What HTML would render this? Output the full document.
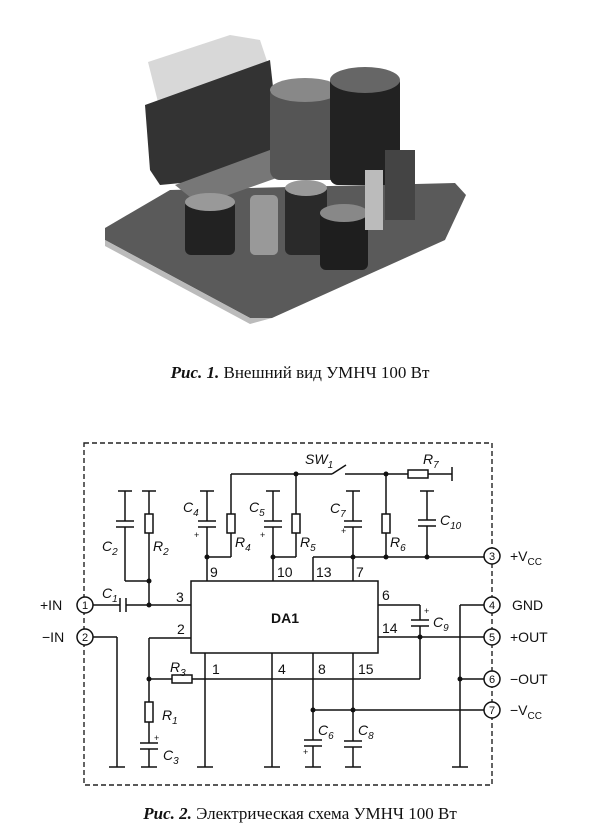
<!DOCTYPE html>
<html><head><meta charset="utf-8"><style>
html,body{margin:0;padding:0;background:#fff;width:600px;height:838px;overflow:hidden}
svg{display:block}
.t{font-family:"Liberation Sans",sans-serif;font-size:14px;fill:#111}
.i{font-style:italic}
.s{font-size:10px}
</style></head><body>
<svg width="600" height="838" viewBox="0 0 600 838" xmlns="http://www.w3.org/2000/svg">
<!-- photo approximation -->
<g>
<polygon points="105,228 170,190 455,183 466,195 445,240 272,318 250,318 105,240" fill="#5a5a5a"/>
<polygon points="105,240 250,318 272,318 250,324 105,246" fill="#bbb"/>
<polygon points="148,62 230,35 260,40 270,70 160,110" fill="#d8d8d8"/>
<polygon points="145,105 270,60 280,150 265,175 160,185 150,170" fill="#333"/>
<polygon points="175,185 270,150 285,175 200,205" fill="#777"/>
<rect x="270" y="85" width="70" height="95" rx="10" fill="#555"/>
<ellipse cx="305" cy="90" rx="35" ry="12" fill="#888"/>
<rect x="330" y="75" width="70" height="110" rx="8" fill="#222"/>
<ellipse cx="365" cy="80" rx="35" ry="13" fill="#666"/>
<rect x="185" y="200" width="50" height="55" rx="6" fill="#222"/>
<ellipse cx="210" cy="202" rx="25" ry="9" fill="#999"/>
<rect x="285" y="185" width="42" height="70" rx="6" fill="#2a2a2a"/>
<ellipse cx="306" cy="188" rx="21" ry="8" fill="#999"/>
<rect x="320" y="210" width="48" height="60" rx="6" fill="#1e1e1e"/>
<ellipse cx="344" cy="213" rx="24" ry="9" fill="#888"/>
<rect x="250" y="195" width="28" height="60" rx="5" fill="#999"/>
<rect x="385" y="150" width="30" height="70" fill="#444"/>
<rect x="365" y="170" width="18" height="60" fill="#bbb"/>
</g>
<text x="300" y="378" text-anchor="middle" style="font-family:'Liberation Serif',serif;font-size:17px" fill="#111"><tspan font-weight="bold" font-style="italic">Рис. 1.</tspan> Внешний вид УМНЧ 100 Вт</text>

<!-- frame -->
<rect x="84" y="443" width="408" height="342" fill="none" stroke="#222" stroke-width="1.4" stroke-dasharray="5,3"/>
<g stroke="#111" stroke-width="1.5" fill="none">
<!-- DA1 -->
<rect x="191" y="581" width="187" height="72"/>
<!-- input 1 -->
<line x1="93" y1="605" x2="120" y2="605"/><line x1="126" y1="605" x2="191" y2="605"/>
<line x1="120" y1="598" x2="120" y2="612"/><line x1="126" y1="598" x2="126" y2="612"/>
<!-- C2 R2 -->
<line x1="118" y1="491" x2="132" y2="491"/><line x1="125" y1="491" x2="125" y2="521"/>
<line x1="116" y1="521" x2="134" y2="521"/><line x1="116" y1="527" x2="134" y2="527"/>
<line x1="125" y1="527" x2="125" y2="581"/><line x1="125" y1="581" x2="149" y2="581"/>
<line x1="142" y1="491" x2="156" y2="491"/><line x1="149" y1="491" x2="149" y2="514"/>
<rect x="145" y="514" width="8" height="19"/>
<line x1="149" y1="533" x2="149" y2="605"/>
<!-- C4 R4 -->
<line x1="200" y1="491" x2="214" y2="491"/><line x1="207" y1="491" x2="207" y2="521"/>
<line x1="198" y1="521" x2="216" y2="521"/><line x1="198" y1="527" x2="216" y2="527"/>
<line x1="207" y1="527" x2="207" y2="581"/><line x1="207" y1="557" x2="231" y2="557"/>
<line x1="231" y1="557" x2="231" y2="533"/><rect x="227" y="514" width="8" height="19"/>
<line x1="231" y1="514" x2="231" y2="474"/><line x1="231" y1="474" x2="332" y2="474"/>
<!-- C5 R5 -->
<line x1="266" y1="491" x2="280" y2="491"/><line x1="273" y1="491" x2="273" y2="521"/>
<line x1="264" y1="521" x2="282" y2="521"/><line x1="264" y1="527" x2="282" y2="527"/>
<line x1="273" y1="527" x2="273" y2="581"/><line x1="273" y1="557" x2="296" y2="557"/>
<line x1="296" y1="557" x2="296" y2="533"/><rect x="292" y="514" width="8" height="19"/>
<line x1="296" y1="514" x2="296" y2="474"/>
<!-- switch -->
<line x1="332" y1="474" x2="346" y2="465"/>
<line x1="345" y1="474" x2="408" y2="474"/>
<rect x="408" y="470" width="20" height="8"/>
<line x1="428" y1="474" x2="452" y2="474"/><line x1="452" y1="467" x2="452" y2="481"/>
<!-- 13,7 rail -->
<line x1="313" y1="581" x2="313" y2="557"/><line x1="313" y1="557" x2="484" y2="557"/>
<line x1="353" y1="581" x2="353" y2="527"/>
<line x1="344" y1="521" x2="362" y2="521"/><line x1="344" y1="527" x2="362" y2="527"/>
<line x1="353" y1="521" x2="353" y2="491"/><line x1="346" y1="491" x2="360" y2="491"/>
<line x1="386" y1="474" x2="386" y2="514"/><rect x="382" y="514" width="8" height="19"/>
<line x1="386" y1="533" x2="386" y2="557"/>
<line x1="420" y1="491" x2="434" y2="491"/><line x1="427" y1="491" x2="427" y2="520"/>
<line x1="418" y1="520" x2="436" y2="520"/><line x1="418" y1="526" x2="436" y2="526"/>
<line x1="427" y1="526" x2="427" y2="557"/>
<!-- right side -->
<line x1="378" y1="605" x2="420" y2="605"/><line x1="420" y1="605" x2="420" y2="620"/>
<line x1="411" y1="620" x2="429" y2="620"/><line x1="411" y1="626" x2="429" y2="626"/>
<line x1="420" y1="626" x2="420" y2="679"/>
<line x1="378" y1="637" x2="484" y2="637"/>
<line x1="484" y1="605" x2="460" y2="605"/><line x1="460" y1="605" x2="460" y2="767"/><line x1="452" y1="767" x2="468" y2="767"/>
<line x1="460" y1="679" x2="484" y2="679"/>
<!-- input 2 -->
<line x1="93" y1="637" x2="117" y2="637"/><line x1="117" y1="637" x2="117" y2="767"/><line x1="109" y1="767" x2="125" y2="767"/>
<line x1="191" y1="638" x2="149" y2="638"/><line x1="149" y1="638" x2="149" y2="702"/>
<rect x="145" y="702" width="8" height="20"/>
<line x1="149" y1="722" x2="149" y2="743"/>
<line x1="140" y1="743" x2="158" y2="743"/><line x1="140" y1="749" x2="158" y2="749"/>
<line x1="149" y1="749" x2="149" y2="767"/><line x1="141" y1="767" x2="157" y2="767"/>
<line x1="149" y1="679" x2="172" y2="679"/><rect x="172" y="675" width="20" height="8"/>
<line x1="192" y1="679" x2="420" y2="679"/>
<!-- bottom pins -->
<line x1="205" y1="653" x2="205" y2="767"/><line x1="197" y1="767" x2="213" y2="767"/>
<line x1="272" y1="653" x2="272" y2="767"/><line x1="264" y1="767" x2="280" y2="767"/>
<line x1="313" y1="653" x2="313" y2="740"/>
<line x1="304" y1="740" x2="322" y2="740"/><line x1="304" y1="746" x2="322" y2="746"/>
<line x1="313" y1="746" x2="313" y2="767"/><line x1="305" y1="767" x2="321" y2="767"/>
<line x1="353" y1="653" x2="353" y2="741"/>
<line x1="344" y1="741" x2="362" y2="741"/><line x1="344" y1="747" x2="362" y2="747"/>
<line x1="353" y1="747" x2="353" y2="767"/><line x1="345" y1="767" x2="361" y2="767"/>
<line x1="313" y1="710" x2="484" y2="710"/>
</g>
<!-- terminals -->
<g stroke="#111" stroke-width="1.5" fill="#fff">
<circle cx="85" cy="605" r="8"/><circle cx="85" cy="637" r="8"/>
<circle cx="492" cy="556" r="8"/><circle cx="492" cy="605" r="8"/><circle cx="492" cy="637" r="8"/>
<circle cx="492" cy="679" r="8"/><circle cx="492" cy="710" r="8"/>
</g>
<g class="t" font-size="11" text-anchor="middle" style="font-size:11px">
<text x="85" y="609" class="t" style="font-size:11px">1</text><text x="85" y="641" class="t" style="font-size:11px">2</text>
<text x="492" y="560" class="t" style="font-size:11px">3</text><text x="492" y="609" class="t" style="font-size:11px">4</text>
<text x="492" y="641" class="t" style="font-size:11px">5</text><text x="492" y="683" class="t" style="font-size:11px">6</text>
<text x="492" y="714" class="t" style="font-size:11px">7</text>
</g>
<!-- junctions -->
<g fill="#111">
<circle cx="149" cy="605" r="2.5"/><circle cx="149" cy="581" r="2.5"/><circle cx="207" cy="557" r="2.5"/>
<circle cx="273" cy="557" r="2.5"/><circle cx="296" cy="474" r="2.5"/><circle cx="386" cy="474" r="2.5"/>
<circle cx="353" cy="557" r="2.5"/><circle cx="386" cy="557" r="2.5"/><circle cx="427" cy="557" r="2.5"/>
<circle cx="420" cy="637" r="2.5"/><circle cx="460" cy="679" r="2.5"/><circle cx="149" cy="679" r="2.5"/>
<circle cx="313" cy="710" r="2.5"/><circle cx="353" cy="710" r="2.5"/>
</g>
<!-- labels -->
<text x="40" y="610" class="t">+IN</text><text x="42" y="642" class="t">−IN</text>
<text x="510" y="561" class="t">+V<tspan class="s" dy="4">CC</tspan></text>
<text x="512" y="610" class="t">GND</text><text x="510" y="642" class="t">+OUT</text>
<text x="510" y="684" class="t">−OUT</text>
<text x="510" y="715" class="t">−V<tspan class="s" dy="4">CC</tspan></text>
<text x="285" y="623" class="t" text-anchor="middle" font-weight="bold">DA1</text>
<text x="176" y="602" class="t">3</text><text x="177" y="634" class="t">2</text>
<text x="210" y="577" class="t">9</text><text x="277" y="577" class="t">10</text>
<text x="316" y="577" class="t">13</text><text x="356" y="577" class="t">7</text>
<text x="382" y="600" class="t">6</text><text x="382" y="633" class="t">14</text>
<text x="212" y="674" class="t">1</text><text x="278" y="674" class="t">4</text>
<text x="318" y="674" class="t">8</text><text x="358" y="674" class="t">15</text>
<g class="t i">
<text x="102" y="551" class="t i">C<tspan class="s" dy="4">2</tspan></text>
<text x="153" y="551" class="t i">R<tspan class="s" dy="4">2</tspan></text>
<text x="102" y="598" class="t i">C<tspan class="s" dy="4">1</tspan></text>
<text x="183" y="512" class="t i">C<tspan class="s" dy="4">4</tspan></text>
<text x="235" y="547" class="t i">R<tspan class="s" dy="4">4</tspan></text>
<text x="249" y="512" class="t i">C<tspan class="s" dy="4">5</tspan></text>
<text x="300" y="547" class="t i">R<tspan class="s" dy="4">5</tspan></text>
<text x="305" y="464" class="t i">SW<tspan class="s" dy="4">1</tspan></text>
<text x="423" y="464" class="t i">R<tspan class="s" dy="4">7</tspan></text>
<text x="330" y="513" class="t i">C<tspan class="s" dy="4">7</tspan></text>
<text x="390" y="547" class="t i">R<tspan class="s" dy="4">6</tspan></text>
<text x="440" y="525" class="t i">C<tspan class="s" dy="4">10</tspan></text>
<text x="433" y="627" class="t i">C<tspan class="s" dy="4">9</tspan></text>
<text x="170" y="672" class="t i">R<tspan class="s" dy="4">3</tspan></text>
<text x="162" y="720" class="t i">R<tspan class="s" dy="4">1</tspan></text>
<text x="163" y="760" class="t i">C<tspan class="s" dy="4">3</tspan></text>
<text x="318" y="735" class="t i">C<tspan class="s" dy="4">6</tspan></text>
<text x="358" y="735" class="t i">C<tspan class="s" dy="4">8</tspan></text>
</g>
<g class="t" style="font-size:9px">
<text x="194" y="538" style="font-size:9px">+</text><text x="260" y="538" style="font-size:9px">+</text>
<text x="341" y="534" style="font-size:9px">+</text><text x="424" y="614" style="font-size:9px">+</text>
<text x="154" y="741" style="font-size:9px">+</text><text x="303" y="755" style="font-size:9px">+</text>
</g>
<text x="300" y="819" text-anchor="middle" style="font-family:'Liberation Serif',serif;font-size:17px" fill="#111"><tspan font-weight="bold" font-style="italic">Рис. 2.</tspan> Электрическая схема УМНЧ 100 Вт</text>
</svg>
</body></html>
